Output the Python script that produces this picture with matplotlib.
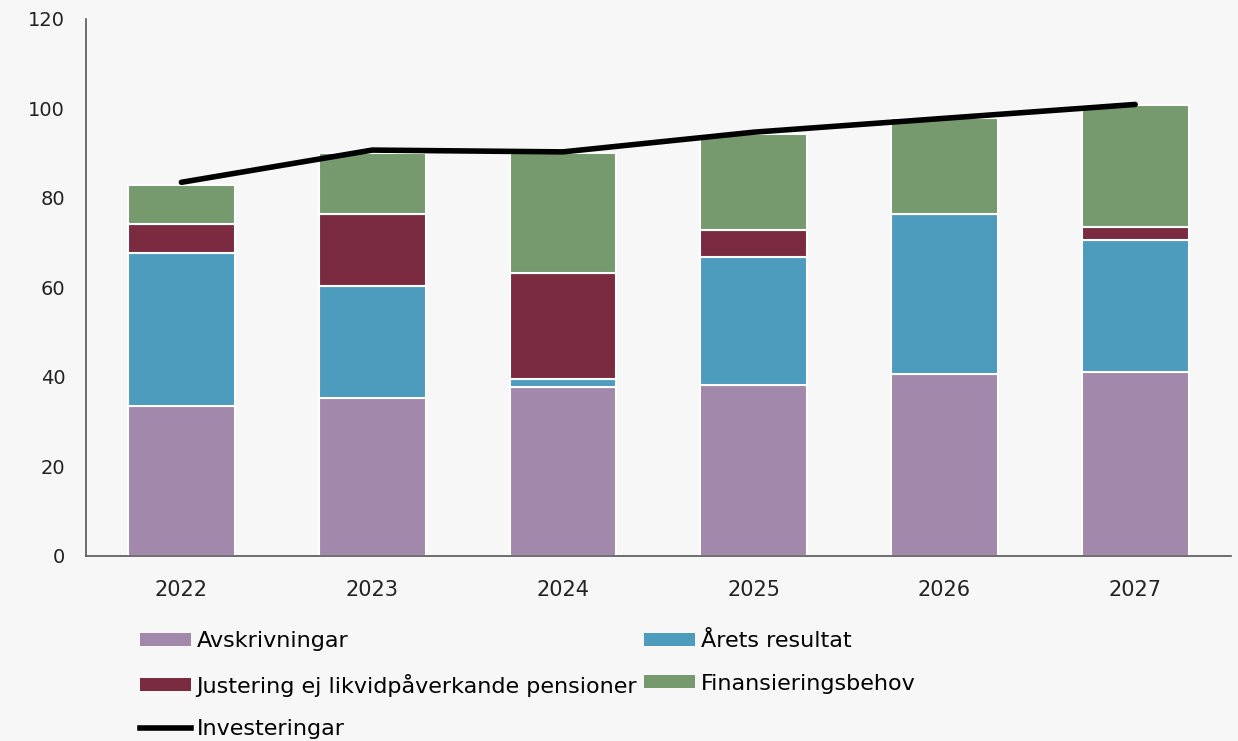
import numpy as np
import matplotlib.pyplot as plt
from matplotlib.lines import Line2D
from matplotlib.patches import Patch

plt.rcParams['font.family'] = ['DejaVu Sans']

years = ["2022", "2023", "2024", "2025", "2026", "2027"]
avskrivningar = [33.6, 35.4, 37.7, 38.3, 40.7, 41.2]
arets_resultat = [34.0, 24.9, 1.8, 28.6, 35.7, 29.3]
justering = [6.5, 16.2, 23.8, 5.9, 0.0, 3.0]
finansiering = [8.8, 13.6, 26.8, 21.5, 21.5, 27.3]
investeringar = [83.5, 90.7, 90.3, 94.7, 97.8, 100.9]

names = ["Avskrivningar", "Årets resultat",
         "Justering ej likvidpåverkande pensioner", "Finansieringsbehov"]
colors = ["#a288ab", "#4d9bbd", "#7b2b40", "#76996e"]

bg = "#f7f7f7"
fig = plt.figure(figsize=(12.38, 7.41), dpi=100, facecolor=bg)
ax = fig.add_axes([0.0695, 0.2497, 0.9245, 0.7247], facecolor=bg)

x = np.arange(len(years))
bottom = np.zeros(len(years))
for vals, c in zip([avskrivningar, arets_resultat, justering, finansiering], colors):
    ax.bar(x, vals, 0.56, bottom=bottom, color=c, edgecolor="white", linewidth=1.5)
    bottom += np.array(vals)

ax.plot(x, investeringar, color="black", lw=4, solid_capstyle="round")

ax.set_xlim(-0.5, 5.5)
ax.set_ylim(0, 120)
ax.set_yticks(range(0, 121, 20))
ax.set_xticks(x)
ax.set_xticklabels(years)
ax.tick_params(axis="both", length=0, labelsize=14, colors="#222222")
ax.tick_params(axis="x", labelsize=15, pad=17)
ax.tick_params(axis="y", pad=15)
for s in ["top", "right"]:
    ax.spines[s].set_visible(False)
for s in ["left", "bottom"]:
    ax.spines[s].set_color("#555555")
    ax.spines[s].set_linewidth(1.2)

patches = [Patch(facecolor=c, label=n) for c, n in zip(colors, names)]
line_h = Line2D([0], [0], color="black", lw=4, label="Investeringar")
handles = [patches[0], patches[2], line_h, patches[1], patches[3]]
fig.legend(handles=handles, loc="upper left", bbox_to_anchor=(0.113, 0.148),
           ncol=2, frameon=False, fontsize=16, handlelength=2.3, handleheight=0.5,
           handletextpad=0.25, columnspacing=0.3, labelspacing=1.0,
           borderaxespad=0, borderpad=0)

fig.savefig("out.png", dpi=100, facecolor=bg)
